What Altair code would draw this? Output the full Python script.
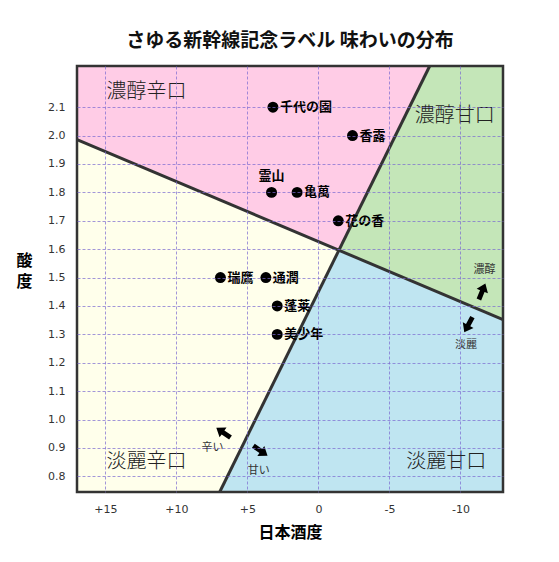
import altair as alt
import pandas as pd
import numpy as np

# ---- data ----
X_LEFT, X_RIGHT = 17, -13          # 日本酒度 (reversed axis)
Y_BOTTOM, Y_TOP = 0.745, 2.245     # 酸度

# boundary lines: endpoints (日本酒度, 酸度)
line_a_x = [17, -13]
line_a_y = [1.986, 1.352]
line_b_x = [6.95, -7.84]
line_b_y = [0.745, 2.245]

sake_names = ["千代の園", "香露", "霊山", "亀萬", "花の香", "瑞鷹", "通潤", "蓬莱", "美少年"]
sake_nihonshudo = [3.2, -2.4, 3.3, 1.5, -1.4, 6.9, 3.7, 2.9, 2.9]
sake_sando = [2.1, 2.0, 1.8, 1.8, 1.7, 1.5, 1.5, 1.4, 1.3]

region_names = ["濃醇辛口", "濃醇甘口", "淡麗辛口", "淡麗甘口"]
region_label_x = [12.1, -9.6, 12.1, -9.0]
region_label_y = [2.155, 2.07, 0.85, 0.85]
region_colors = ["#FFCCE6", "#C4E6B8", "#FFFFEB", "#BFE5F1"]

hint_texts = ["濃醇", "淡麗", "辛い", "甘い"]
hint_x = [-11.7, -10.4, 7.45, 4.2]
hint_y = [1.527, 1.262, 0.9, 0.82]

arrow_x = [6.69, 4.08, -11.53, -10.56]
arrow_y = [0.954, 0.890, 1.451, 1.334]
arrow_angle = [305, 125, 22, 208]

x_ticks = [15, 10, 5, 0, -5, -10]
y_ticks = [0.8, 0.9, 1.0, 1.1, 1.2, 1.3, 1.4, 1.5, 1.6, 1.7, 1.8, 1.9, 2.0, 2.1]

# ---- geometry from boundary lines ----
sa = (line_a_y[1] - line_a_y[0]) / (line_a_x[1] - line_a_x[0])
sb = (line_b_y[1] - line_b_y[0]) / (line_b_x[1] - line_b_x[0])
fa = lambda x: line_a_y[0] + sa * (x - line_a_x[0])
px = (line_b_y[0] - line_a_y[0] + sa * line_a_x[0] - sb * line_b_x[0]) / (sa - sb)
py = fa(px)
bx0, bx1 = line_b_x[0], line_b_x[1]

rows = []
def add(region, pts):
    for x, y, y2 in pts:
        rows.append({"region": region, "x": x, "y": y, "y2": y2})

add("淡麗辛口", [(X_LEFT, Y_BOTTOM, fa(X_LEFT)), (bx0, Y_BOTTOM, fa(bx0)), (px, py, py)])
add("濃醇辛口", [(X_LEFT, fa(X_LEFT), Y_TOP), (px, py, Y_TOP), (bx1, Y_TOP, Y_TOP)])
add("濃醇甘口", [(px, py, py), (bx1, fa(bx1), Y_TOP), (X_RIGHT, fa(X_RIGHT), Y_TOP)])
add("淡麗甘口", [(bx0, Y_BOTTOM, Y_BOTTOM), (px, Y_BOTTOM, py), (X_RIGHT, Y_BOTTOM, fa(X_RIGHT))])
regions_df = pd.DataFrame(rows)

lines_df = pd.DataFrame({
    "line": ["a", "a", "b", "b"],
    "x": line_a_x + line_b_x,
    "y": line_a_y + line_b_y,
})
sake_df = pd.DataFrame({"name": sake_names, "x": sake_nihonshudo, "y": sake_sando})
rlab_df = pd.DataFrame({"name": region_names, "x": region_label_x, "y": region_label_y})
hint_df = pd.DataFrame({"t": hint_texts, "x": hint_x, "y": hint_y})
arrow_df = pd.DataFrame({"x": arrow_x, "y": arrow_y, "a": arrow_angle})

W = H = 426
FONT = "Noto Sans CJK JP"
x_scale = alt.Scale(domain=[X_LEFT, X_RIGHT], nice=False, zero=False)
y_scale = alt.Scale(domain=[Y_BOTTOM, Y_TOP], nice=False, zero=False)

x_axis = alt.Axis(values=x_ticks, title="日本酒度",
                  labelExpr="datum.value > 0 ? '+' + datum.value : '' + datum.value",
                  ticks=False, domain=False, labelPadding=11, labelFontSize=11,
                  labelColor="#333", labelFont="DejaVu Sans", titleFont=FONT,
                  titleFontSize=16, titleFontWeight="bold", titlePadding=10,
                  labelOverlap=False,
                  grid=True, gridColor="#7a6ad0", gridOpacity=0.7, gridDash=[3, 2],
                  gridWidth=1, zindex=1)
y_axis = alt.Axis(values=y_ticks, format=".1f", title=["酸", "度"], titleAngle=0,
                  titleX=-53, titleY=194, titleAlign="center", titleBaseline="middle",
                  titleLineHeight=21, labelOverlap=False,
                  ticks=False, domain=False, labelPadding=12, labelFontSize=11,
                  labelColor="#333", labelFont="DejaVu Sans", titleFont=FONT,
                  titleFontSize=16, titleFontWeight="bold",
                  grid=True, gridColor="#7a6ad0", gridOpacity=0.7, gridDash=[3, 2],
                  gridWidth=1, zindex=1)

X = alt.X("x:Q", scale=x_scale, axis=x_axis)
Y = alt.Y("y:Q", scale=y_scale, axis=y_axis)

areas = alt.Chart(regions_df).mark_area(interpolate="linear").encode(
    x=X, y=Y, y2="y2:Q",
    color=alt.Color("region:N", scale=alt.Scale(domain=region_names, range=region_colors), legend=None),
)

lines = alt.Chart(lines_df).mark_line(color="#333333", strokeWidth=3).encode(
    x=X, y=Y, detail="line:N"
)

region_text = alt.Chart(rlab_df).mark_text(font=FONT, fontSize=20, fontWeight=300, color="#222222").encode(
    x=X, y=Y, text="name:N"
)

hint_text = alt.Chart(hint_df).mark_text(font=FONT, fontSize=11, color="#333333").encode(
    x=X, y=Y, text="t:N"
)

ARROW = "M0,-1 L0.7,-0.05 L0.28,-0.05 L0.28,1 L-0.28,1 L-0.28,-0.05 L-0.7,-0.05 Z"
arrows = alt.Chart(arrow_df).mark_point(shape=ARROW, filled=True, color="#000000", size=300, opacity=1).encode(
    x=X, y=Y, angle=alt.Angle("a:Q", scale=None)
)

dots = alt.Chart(sake_df).mark_circle(color="#000000", size=120, opacity=1).encode(x=X, y=Y)

labels_right = alt.Chart(sake_df).transform_filter(alt.datum.name != "霊山").mark_text(
    font=FONT, fontSize=13, fontWeight="bold", align="left", dx=7, color="#000000"
).encode(x=X, y=Y, text="name:N")

labels_above = alt.Chart(sake_df).transform_filter(alt.datum.name == "霊山").mark_text(
    font=FONT, fontSize=13, fontWeight="bold", align="center", dy=-16, color="#000000"
).encode(x=X, y=Y, text="name:N")

frame = alt.Chart(pd.DataFrame({"k": [0]})).mark_rect(
    fill=None, fillOpacity=0, stroke="#333333", strokeWidth=2.5
).encode(x=alt.value(0), x2=alt.value(W), y=alt.value(0), y2=alt.value(H))

chart = alt.layer(areas, lines, region_text, hint_text, arrows, dots, labels_right, labels_above, frame).properties(
    width=W, height=H,
    padding={"left": 69, "top": 58, "right": 40, "bottom": 50},
    autosize=alt.AutoSizeParams(type="none"),
    title=alt.Title("さゆる新幹線記念ラベル 味わいの分布", font=FONT, fontSize=19,
                    fontWeight="bold", color="#111111", anchor="middle", offset=9),
).configure_view(stroke=None).configure(background="white")

chart.save("out.html", embed_options={"renderer": "svg", "actions": False})
